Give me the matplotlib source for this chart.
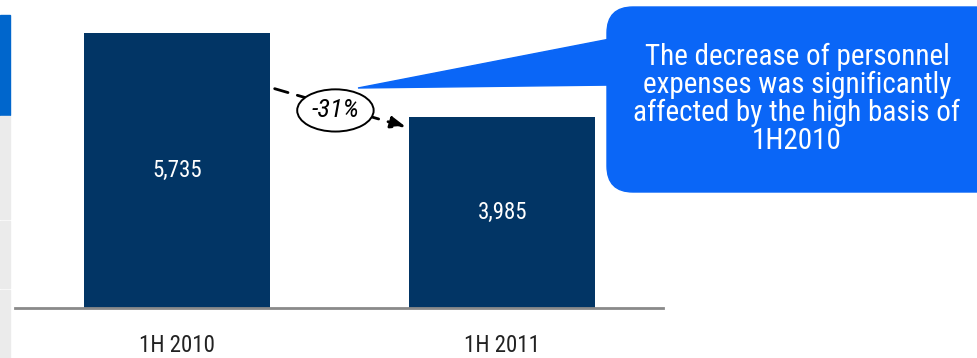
import matplotlib
matplotlib.use('Agg')

import matplotlib.pyplot as plt
from matplotlib import font_manager as fm
from matplotlib.patches import Rectangle, FancyBboxPatch, Polygon, Ellipse

# Datos
periodos = ['1H 2010', '1H 2011']
gastos = [5735, 3985]
etiquetas = ['5,735', '3,985']
cambio = '-31%'
nota = 'The decrease of personnel\nexpenses was significantly\naffected by the high basis of\n1H2010'


# Buscar una fuente estrecha (tipo Arial Narrow) si existe
def fuente_estrecha(estilo='normal'):
    prefer = ['Liberation Sans Narrow', 'Arial Narrow', 'Roboto Condensed',
              'Open Sans Condensed', 'Noto Sans', 'DejaVu Sans', 'Roboto', 'Open Sans']
    cands = []
    for f in fm.fontManager.ttflist:
        estrecha = ('Narrow' in f.name or 'Condensed' in f.name
                    or f.stretch in ('condensed', 'semi-condensed'))
        if estrecha and f.style == estilo and f.weight in (400, 'normal', 'regular'):
            cands.append(f)
    for p in prefer:
        for f in cands:
            if f.name == p:
                return fm.FontProperties(fname=f.fname)
    if cands:
        return fm.FontProperties(fname=cands[0].fname)
    return fm.FontProperties(family=['Liberation Sans', 'DejaVu Sans'], style=estilo)


fp = fuente_estrecha()
fpi = fuente_estrecha('italic')

W, H = 977, 358
fig = plt.figure(figsize=(W / 100, H / 100), dpi=100)
fig.patch.set_facecolor('white')

# Capa en píxeles para decoraciones
capa = fig.add_axes([0, 0, 1, 1], zorder=0)
capa.set_xlim(0, W)
capa.set_ylim(H, 0)
capa.axis('off')

# Franja lateral izquierda
capa.add_patch(Rectangle((0, 15), 10, 100, color='#0066cc'))
for y0, y1 in [(116, 219), (221, 288), (290, 358)]:
    capa.add_patch(Rectangle((0, y0), 10, y1 - y0, color='#ebebeb'))

# Ejes de las barras
ax = fig.add_axes([15 / W, 1 - 308 / H, (663 - 15) / W, 308 / H], zorder=1)
x = [0, 1]
ax.bar(x, gastos, width=0.572, color='#023565', zorder=2)
ax.set_xlim(-0.498, 1.494)
ax.set_ylim(0, gastos[0] * 308 / 275)
for s in ['top', 'right', 'left']:
    ax.spines[s].set_visible(False)
ax.spines['bottom'].set_color('#8a8a8a')
ax.spines['bottom'].set_linewidth(2)
ax.set_yticks([])
ax.set_xticks(x)
ax.set_xticklabels(periodos, fontproperties=fp, fontsize=16.5, color='#222222')
ax.tick_params(axis='x', length=0, pad=19)
ax.patch.set_alpha(0)

for xi, v, lab in zip(x, gastos, etiquetas):
    ax.text(xi, v / 2, lab, ha='center', va='center', color='white',
            fontproperties=fp, fontsize=16.5)

# Flecha de variación
ax.annotate('', xy=(0.712, 3760), xytext=(0.292, 4590),
            arrowprops=dict(arrowstyle='-|>,head_length=0.9,head_width=0.35',
                            linestyle=(0, (5, 3.5)), color='black', lw=2),
            zorder=3)
ax.add_patch(Ellipse((0.487, 4120), 0.235, 880, facecolor='white',
                     edgecolor='black', lw=1.4, zorder=4))
ax.text(0.487, 4120, cambio, ha='center', va='center', fontproperties=fpi,
        fontsize=19, zorder=5)

# Globo de comentario (capa superior en píxeles)
top = fig.add_axes([0, 0, 1, 1], zorder=2)
top.set_xlim(0, W)
top.set_ylim(H, 0)
top.axis('off')
top.patch.set_alpha(0)
azul = '#0a66f7'
top.add_patch(Polygon([(358, 88), (615, 38), (615, 85)], closed=True, color=azul))
top.add_patch(FancyBboxPatch((607, 7), 395, 185,
                             boxstyle='round,pad=0,rounding_size=26', color=azul))
top.text(797, 99, nota, ha='center', va='center', color='white',
         fontproperties=fp, fontsize=21, linespacing=1.0)

fig.savefig('out.png', dpi=100)
